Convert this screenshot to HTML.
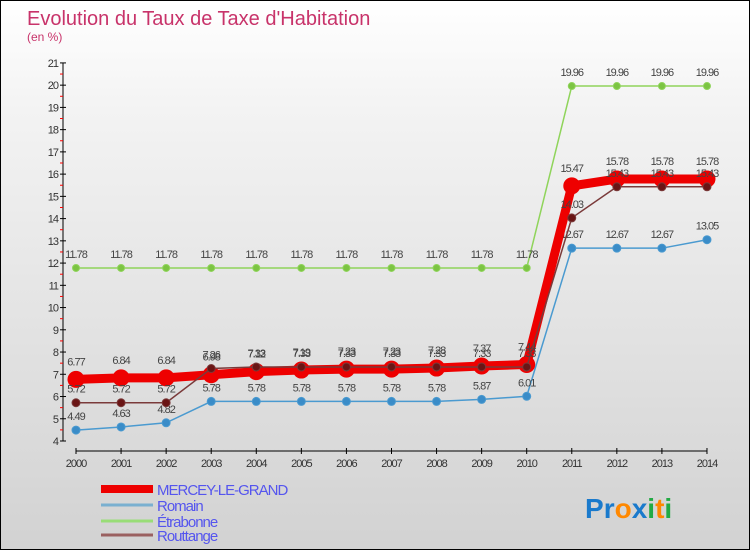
<!DOCTYPE html>
<html><head><meta charset="utf-8"><style>
body{margin:0}
#wrap{width:750px;height:550px;position:relative;overflow:hidden;background:linear-gradient(#ffffff,#f3f3f3 20%,#d2d2d2);font-family:"Liberation Sans",sans-serif;box-sizing:border-box;border:1px solid #000}
svg{position:absolute;left:0;top:0}
</style></head><body>
<div id="wrap">
<svg id="c" width="750" height="550">
<text x="26" y="24" font-size="20" fill="#c8336a">Evolution du Taux de Taxe d'Habitation</text>
<text x="26" y="40" font-size="12" fill="#c8336a">(en %)</text>
</svg>
</div>
<script>
const years=["2000","2001","2002","2003","2004","2005","2006","2007","2008","2009","2010","2011","2012","2013","2014"];
const yTicks=[4,5,6,7,8,9,10,11,12,13,14,15,16,17,18,19,20,21];
const mercey=[6.77,6.84,6.84,6.98,7.12,7.19,7.23,7.23,7.28,7.37,7.44,15.47,15.78,15.78,15.78];
const romain=[4.49,4.63,4.82,5.78,5.78,5.78,5.78,5.78,5.78,5.87,6.01,12.67,12.67,12.67,13.05];
const etrabonne=[11.78,11.78,11.78,11.78,11.78,11.78,11.78,11.78,11.78,11.78,11.78,19.96,19.96,19.96,19.96];
const routtange=[5.72,5.72,5.72,7.26,7.33,7.33,7.33,7.33,7.33,7.33,7.33,14.03,15.43,15.43,15.43];
const svg=document.getElementById('c');const NS="http://www.w3.org/2000/svg";
const X=i=>75+i*45.07, Y=v=>440-(v-4)*22.24;
function mk(t,a,p){const e=document.createElementNS(NS,t);for(const k in a)e.setAttribute(k,a[k]);(p||svg).appendChild(e);return e;}
// axes
let ax=mk('line',{x1:62,y1:Y(21),x2:62,y2:440,stroke:'#000'});


let bx=mk('line',{x1:75,y1:450,x2:706,y2:450,stroke:'#000'});


yTicks.forEach(v=>{mk('line',{x1:59,x2:65,y1:Y(v),y2:Y(v),stroke:'#000'});
if(v<21)mk('line',{x1:59,x2:62,y1:Y(v+0.5),y2:Y(v+0.5),stroke:'#f00'});
const t=mk('text',{x:57,y:Y(v)+4,'font-size':11,fill:'#333','text-anchor':'end','letter-spacing':'-1'});t.textContent=v;

});
years.forEach((y,i)=>{mk('line',{x1:X(i),x2:X(i),y1:447,y2:453,stroke:'#000'});
const t=mk('text',{x:X(i),y:466,'font-size':11,fill:'#333','text-anchor':'middle','letter-spacing':'-1'});t.textContent=y;

});
function series(d,col,w,r,dot,name,below){
const g=mk('g',{});


mk('polyline',{points:d.map((v,i)=>X(i)+','+Y(v)).join(' '),fill:'none',stroke:col,'stroke-width':w},g);
d.forEach((v,i)=>{const c=mk('circle',{cx:X(i),cy:Y(v),r:r,fill:dot,stroke:col,'stroke-width':1},g);


const t=mk('text',{x:X(i),y:Y(v)+(below?-8:-10)-(r>5?4:0),'font-size':11,fill:'#444','text-anchor':'middle','letter-spacing':'-1'},g);t.textContent=v;

});}
series(etrabonne,'#8fd45a',1.5,3.5,'#7cc443','etrabonne');
series(romain,'#4a9ad0',1.5,4,'#3a8cc8','romain');
series(mercey,'#ee0000',9,8,'#ee0000','mercey');
series(routtange,'#7a3a3a',1.5,4,'#6a1515','routtange');
// legend
const leg=[['MERCEY-LE-GRAND','#ee0000',8,492],['Romain','#7ab0d0',3,508],['Étrabonne','#99dd77',3,524],['Routtange','#9a6060',3,538]];
leg.forEach(l=>{const g=mk('g',{});


mk('line',{x1:100,x2:152,y1:l[3]-4,y2:l[3]-4,stroke:l[1],'stroke-width':l[2]},g);
const t=mk('text',{x:156,y:l[3]+2,'font-size':15,fill:'#5555ee','letter-spacing':'-1'},g);t.textContent=l[0];});
// logo
const lg=mk('text',{x:584,y:517,'font-size':28,'font-weight':'bold'});


[['P','#1a7acc'],['r','#1a7acc'],['o','#ff8800'],['x','#1a7acc'],['i','#22aa44'],['t','#ff8800'],['i','#22aa44']].forEach(p=>{const s=mk('tspan',{fill:p[1]},lg);s.textContent=p[0];});
</script>
</body></html>
